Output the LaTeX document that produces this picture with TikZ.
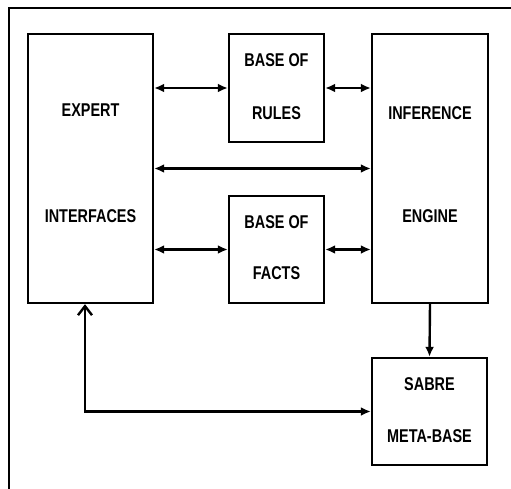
\documentclass[tikz,border=0pt]{standalone}
\usepackage{fontspec}
\setmainfont[FakeStretch=0.78]{Liberation Sans}
\usetikzlibrary{arrows.meta}
\begin{document}
\begin{tikzpicture}[x=1pt,y=-1pt,
  box/.style={draw,line width=2.4pt,rectangle,inner sep=0pt},
  lbl/.style={font=\fontsize{18.5}{20}\selectfont\bfseries,inner sep=0pt},
  conn/.style={line width=2.4pt,{Latex[length=10pt,width=9pt]}-{Latex[length=10pt,width=9pt]}},
  one/.style={line width=2.4pt,-{Latex[length=10pt,width=9pt]}}]
\useasboundingbox (0,0) rectangle (511,489);
\draw[line width=1.8pt] (511,8) -- (9,8) -- (9,489);
\node[box,minimum width=125pt,minimum height=269pt] (expert) at (90.5,168.5) {};
\node[box,minimum width=95pt,minimum height=108pt] (rules) at (276.5,88) {};
\node[box,minimum width=116pt,minimum height=269pt] (infer) at (430,168.5) {};
\node[box,minimum width=95pt,minimum height=107pt] (facts) at (276.5,249.5) {};
\node[box,minimum width=115pt,minimum height=107pt] (sabre) at (429.5,411.5) {};
\node[lbl] (e1) at (90.5,110) {EXPERT};
\node[lbl] (e2) at (90.5,216) {INTERFACES};
\node[lbl] (r1) at (276.5,60) {BASE OF};
\node[lbl] (r2) at (276.5,113) {RULES};
\node[lbl] (i1) at (430,113) {INFERENCE};
\node[lbl] (i2) at (430,216) {ENGINE};
\node[lbl] (f1) at (276.5,222) {BASE OF};
\node[lbl] (f2) at (276.5,273) {FACTS};
\node[lbl] (s1) at (429.5,384) {SABRE};
\node[lbl] (s2) at (429.5,436) {META-BASE};
\draw[conn] (expert.east |- rules.west) -- (rules.west);
\draw[conn] (rules.east) -- (infer.west |- rules.east);
\draw[conn] (expert.east) -- (infer.west);
\draw[conn] (expert.east |- facts.west) -- (facts.west);
\draw[conn] (facts.east) -- (infer.west |- facts.east);
\draw[one] (infer.south) -- (sabre.north);
\coordinate (ebot) at ([xshift=-5.5pt]expert.south);
\draw[line width=2.4pt,{Straight Barb[length=9pt,width=14pt]}-{Latex[length=10pt,width=9pt]}] (ebot) |- (sabre.west);
\end{tikzpicture}
\end{document}
